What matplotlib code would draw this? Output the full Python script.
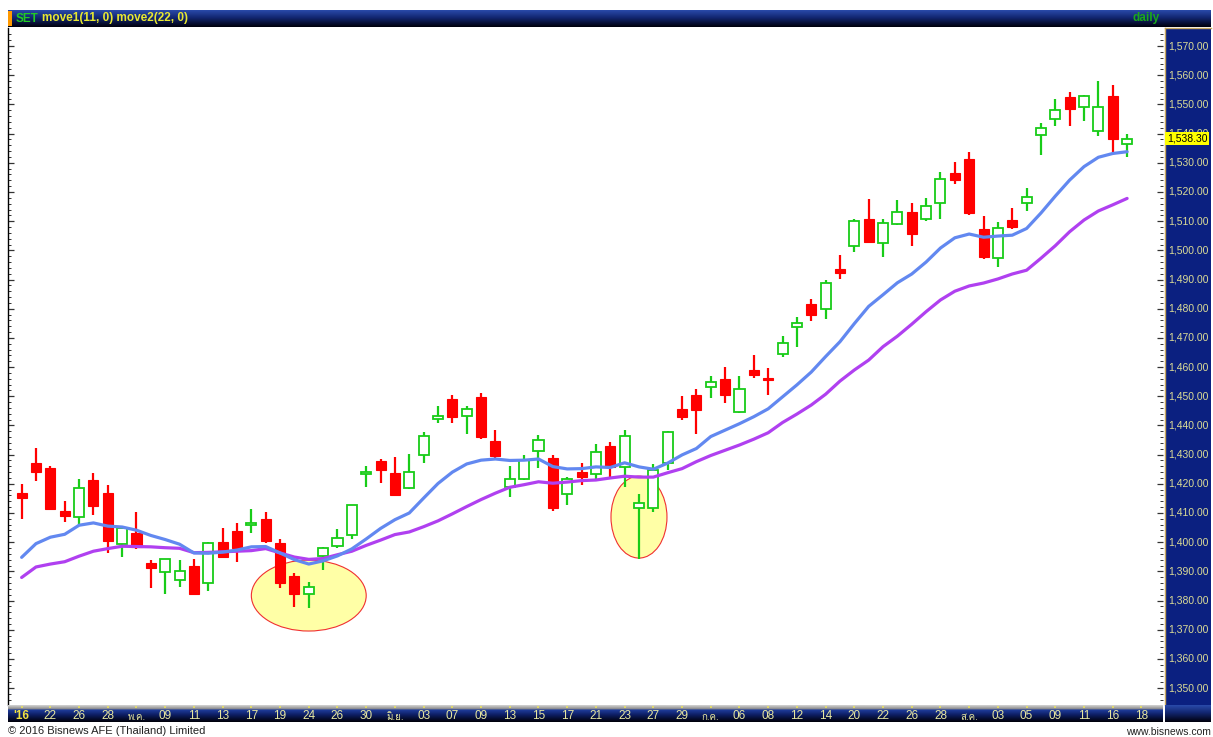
import numpy as np
import matplotlib
matplotlib.use('Agg')
import matplotlib.pyplot as plt
from matplotlib.colors import LinearSegmentedColormap
from matplotlib.patches import Ellipse, Rectangle

# SET index, daily candles (Apr - Aug 2016)
opens = [1417.0, 1427.0, 1425.3, 1410.6, 1408.5, 1421.3, 1416.9, 1399.3, 1403.0, 1392.9,
         1389.9, 1387.0, 1391.8, 1385.9, 1400.1, 1403.8, 1405.8, 1407.8, 1399.6, 1388.4,
         1382.2, 1395.2, 1398.6, 1402.4, 1423.3, 1427.8, 1423.8, 1418.4, 1429.8, 1442.2,
         1448.9, 1443.3, 1449.8, 1434.7, 1418.8, 1421.8, 1431.3, 1428.7, 1416.5, 1424.1,
         1423.3, 1432.9, 1425.8, 1411.6, 1411.6, 1427.2, 1445.5, 1450.6, 1453.3, 1455.8,
         1444.6, 1458.9, 1456.3, 1464.4, 1473.8, 1481.5, 1479.8, 1493.6, 1501.5, 1510.9,
         1502.4, 1509.2, 1513.0, 1510.8, 1516.1, 1526.4, 1531.3, 1507.2, 1497.4, 1510.4,
         1516.1, 1539.5, 1544.9, 1552.5, 1549.0, 1541.0, 1552.8, 1536.3]
highs = [1419.8, 1432.3, 1426.1, 1414.2, 1421.8, 1423.6, 1419.5, 1405.0, 1410.2, 1393.8,
         1394.4, 1393.8, 1394.1, 1399.9, 1404.9, 1406.4, 1411.2, 1410.2, 1401.0, 1389.3,
         1386.2, 1398.4, 1404.5, 1412.7, 1426.1, 1428.5, 1429.3, 1430.2, 1437.8, 1446.6,
         1450.6, 1446.6, 1451.2, 1438.6, 1426.1, 1429.8, 1436.7, 1429.8, 1422.4, 1427.0,
         1433.8, 1434.4, 1438.6, 1416.4, 1426.8, 1438.0, 1450.1, 1452.4, 1456.8, 1460.0,
         1457.1, 1464.1, 1459.6, 1470.7, 1477.2, 1483.2, 1489.8, 1498.4, 1510.6, 1517.7,
         1510.6, 1517.2, 1516.1, 1518.0, 1526.7, 1530.2, 1533.8, 1511.7, 1509.8, 1514.4,
         1521.3, 1543.5, 1552.0, 1554.2, 1553.1, 1558.0, 1556.5, 1539.8]
lows = [1408.1, 1421.0, 1411.0, 1406.9, 1405.5, 1409.3, 1396.4, 1394.8, 1397.5, 1384.4,
        1382.1, 1384.7, 1382.2, 1383.3, 1394.8, 1393.3, 1403.0, 1399.8, 1384.4, 1377.9,
        1377.3, 1390.4, 1397.9, 1401.0, 1419.0, 1420.3, 1415.8, 1418.2, 1427.2, 1440.7,
        1440.7, 1436.9, 1435.3, 1429.0, 1415.5, 1421.3, 1425.5, 1410.7, 1412.7, 1419.5,
        1421.8, 1422.4, 1419.0, 1394.4, 1410.4, 1424.7, 1441.8, 1437.0, 1449.3, 1447.8,
        1444.3, 1456.3, 1450.4, 1463.6, 1466.8, 1475.8, 1476.4, 1490.1, 1499.5, 1502.7,
        1497.8, 1508.8, 1501.6, 1510.0, 1510.9, 1522.6, 1512.1, 1497.2, 1494.2, 1507.2,
        1513.6, 1532.6, 1542.6, 1542.6, 1544.4, 1539.3, 1533.8, 1531.9]
closes = [1415.3, 1424.1, 1411.2, 1409.0, 1418.6, 1412.4, 1400.5, 1404.7, 1398.4, 1391.2,
          1394.1, 1390.2, 1382.4, 1399.6, 1395.0, 1398.1, 1406.6, 1400.5, 1386.1, 1382.1,
          1384.5, 1397.9, 1401.6, 1412.7, 1424.1, 1424.7, 1416.1, 1424.1, 1436.4, 1443.3,
          1443.0, 1445.5, 1435.9, 1429.6, 1421.8, 1428.1, 1435.0, 1411.6, 1421.5, 1422.2,
          1430.8, 1425.8, 1436.4, 1413.3, 1424.7, 1437.8, 1443.0, 1445.2, 1454.8, 1450.4,
          1452.6, 1457.3, 1455.5, 1468.1, 1475.1, 1477.8, 1488.9, 1492.3, 1510.0, 1503.0,
          1509.5, 1513.0, 1505.6, 1515.2, 1524.4, 1524.1, 1512.7, 1497.6, 1507.5, 1507.9,
          1518.4, 1542.0, 1548.1, 1548.5, 1552.8, 1549.1, 1538.0, 1538.3]

# moving averages as drawn (move1 = 11 days, move2 = 22 days)
move1 = [1394.8, 1399.5, 1401.7, 1402.7, 1405.8, 1406.6, 1405.5, 1405.2, 1404.1, 1402.3,
         1400.9, 1399.3, 1396.3, 1396.2, 1396.6, 1397.3, 1398.4, 1398.5, 1396.3, 1394.0,
         1392.5, 1393.6, 1395.3, 1397.7, 1401.1, 1404.7, 1407.7, 1410.0, 1415.1, 1420.1,
         1424.0, 1426.8, 1428.1, 1428.5, 1428.0, 1428.1, 1428.5, 1425.9, 1425.1, 1425.2,
         1425.8, 1425.6, 1427.2, 1425.8, 1425.0, 1427.1, 1429.9, 1432.1, 1436.2, 1438.4,
         1440.6, 1443.0, 1445.7, 1449.8, 1453.9, 1458.3, 1463.6, 1468.7, 1474.9, 1480.8,
         1484.8, 1488.9, 1491.9, 1496.0, 1500.8, 1504.3, 1505.6, 1504.5, 1504.9, 1505.2,
         1507.5, 1512.8, 1518.6, 1524.1, 1528.7, 1531.9, 1533.2, 1533.8]
move2 = [1387.9, 1391.5, 1392.5, 1393.3, 1395.2, 1396.9, 1397.8, 1398.6, 1398.5, 1398.4,
         1398.1, 1397.9, 1396.4, 1396.5, 1396.7, 1396.9, 1397.1, 1397.8, 1396.3, 1394.9,
         1394.1, 1394.4, 1395.7, 1396.9, 1398.9, 1400.7, 1402.6, 1403.5, 1405.3, 1407.3,
         1409.7, 1412.2, 1414.6, 1416.8, 1418.8, 1419.7, 1420.7, 1420.2, 1420.6, 1421.1,
         1421.3, 1422.0, 1422.6, 1422.3, 1422.3, 1423.8, 1425.2, 1427.6, 1429.7, 1431.5,
         1433.3, 1435.3, 1437.5, 1441.0, 1443.9, 1447.0, 1450.7, 1455.2, 1459.0, 1462.4,
         1467.0, 1470.6, 1474.7, 1479.0, 1483.0, 1486.0, 1487.8, 1488.8, 1490.2, 1491.9,
         1493.2, 1497.3, 1501.6, 1506.4, 1510.4, 1513.5, 1515.6, 1517.8]

# date labels, one every 2 bars
date_labels = ["'16", "22", "26", "28", "พ.ค.", "09", "11", "13", "17", "19",
               "24", "26", "30", "มิ.ย.", "03", "07", "09", "13", "15", "17",
               "21", "23", "27", "29", "ก.ค.", "06", "08", "12", "14", "20",
               "22", "26", "28", "ส.ค.", "03", "05", "09", "11", "16", "18"]
label_step = 2

# highlighted zones (bar index, price, width in bars, height in points)
zone_bar = [20.0, 43.0]
zone_price = [1381.7, 1408.6]
zone_width = [8.0, 3.9]
zone_height = [24.3, 28.1]

price_ticks = np.arange(1350, 1571, 10)

# Loma carries the Thai month names
fams = ['Liberation Sans', 'Loma', 'DejaVu Sans']

W, H = 1213, 737
fig = plt.figure(figsize=(W / 100, H / 100), dpi=100)
fig.patch.set_facecolor('white')


def px_axes(x0, y0, x1, y1):
    return fig.add_axes([x0 / W, 1 - y1 / H, (x1 - x0) / W, (y1 - y0) / H])


def gradient(ax, colors, stops, xr=(0, 1)):
    cmap = LinearSegmentedColormap.from_list('g', list(zip(stops, colors)))
    ax.imshow(np.linspace(0, 1, 64).reshape(-1, 1), cmap=cmap, aspect='auto',
              extent=[xr[0], xr[1], 0, 1], origin='upper', interpolation='bilinear')
    ax.set_xlim(*xr)
    ax.set_ylim(0, 1)
    ax.axis('off')


n = len(closes)
x = np.arange(n)
xlim = (-0.95, n + 1.5)
ylim = (1344.2, 1576.2)

# main price area
ax = px_axes(8, 28, 1163, 705)
ax.set_xlim(*xlim)
ax.set_ylim(*ylim)

for i in range(len(zone_bar)):
    ax.add_patch(Ellipse((zone_bar[i], zone_price[i]), zone_width[i], zone_height[i],
                         facecolor='#ffffa6', edgecolor='#f03030', lw=0.8, zorder=1))

up = np.array(closes) >= np.array(opens)
red, green = '#ff0000', '#18cc18'
for i in range(n):
    col = green if up[i] else red
    ax.vlines(x[i], lows[i], highs[i], color=col, lw=1.6, zorder=2)
    lo, hi = min(opens[i], closes[i]), max(opens[i], closes[i])
    if up[i]:
        ax.add_patch(Rectangle((x[i] - 0.35, lo), 0.7, max(hi - lo, 0.3),
                               facecolor='white', edgecolor=col, lw=1.3, zorder=3))
    else:
        ax.add_patch(Rectangle((x[i] - 0.35, lo), 0.7, max(hi - lo, 0.3),
                               facecolor=col, edgecolor=col, lw=0.8, zorder=3))

ax.plot(x, move2, color='#b040f0', lw=2.3, zorder=4, solid_capstyle='round')
ax.plot(x, move1, color='#6288f0', lw=2.3, zorder=4, solid_capstyle='round')

ax.set_yticks(price_ticks)
ax.set_yticks(np.arange(1346, 1576, 2), minor=True)
ax.set_xticks([])
ax.tick_params(axis='y', which='both', direction='in', left=True, right=True,
               labelleft=False, labelright=False, color='#333333')
ax.tick_params(axis='y', which='major', length=4, width=0.9)
ax.tick_params(axis='y', which='minor', length=2, width=0.7)
for s in ['top', 'right', 'bottom']:
    ax.spines[s].set_visible(False)
ax.spines['left'].set_color('black')
ax.spines['left'].set_linewidth(1.0)

# right price scale
yax = px_axes(1165, 28, 1211, 705)
yax.set_facecolor('#0b2080')
yax.set_xlim(0, 1)
yax.set_ylim(*ylim)
yax.set_xticks([])
yax.set_yticks([])
for s in ['right', 'bottom']:
    yax.spines[s].set_visible(False)
for s in ['left', 'top']:
    yax.spines[s].set_color('#c8a860')
    yax.spines[s].set_linewidth(1.0)
for v in price_ticks:
    yax.text(0.07, v, f"{v:,.2f}", color='#dcdc96', fontsize=7.5, va='center',
             ha='left', family=fams)
yax.text(0.04, closes[-1], f"{closes[-1]:,.2f}", color='black', fontsize=7.5,
         va='center', ha='left', family=fams, zorder=5,
         bbox=dict(boxstyle='square,pad=0.15', facecolor='#ffff00', edgecolor='none'))

# header bar
hax = px_axes(8, 10, 1211, 27)
gradient(hax, ['#2a4aaa', '#122670', '#00000c'], [0, 0.45, 1])
hax.add_patch(Rectangle((0, 0.05), 4 / 1203, 0.9, facecolor='#ff9900', edgecolor='none'))
t_set = hax.text(8 / 1203, 0.5, 'SET', color='#22cc22', fontsize=8.5, fontweight='bold',
                 va='center', ha='left', family=fams)
hax.annotate('move1(11, 0) move2(22, 0)', xy=(1, 0.5), xycoords=t_set,
             xytext=(2.5, 0), textcoords='offset points', color='#e8e830',
             fontsize=8.5, fontweight='bold', va='center', ha='left', family=fams)
hax.text(1152 / 1203, 0.5, 'daily', color='#1aa81a', fontsize=8.5, fontweight='bold',
         va='center', ha='right', family=fams)

# date axis bar
bax = px_axes(8, 705, 1163, 722)
gradient(bax, ['#d4d4d4', '#8c8c8c', '#1e3c9c', '#0c1c5e', '#000008'],
         [0, 0.22, 0.28, 0.6, 1], xr=xlim)
tick_pos = np.arange(len(date_labels)) * label_step
bax.vlines(tick_pos, 0.8, 0.95, color='#e8e060', lw=1.2)
for p, lab in zip(tick_pos, date_labels):
    thai_lab = any(ord(c) > 0x0E00 for c in lab)
    first = lab.startswith("'")
    bax.text(p, 0.3 if thai_lab else 0.36, lab,
             color='#f0e040' if first else '#e8e8a0',
             fontsize=7 if thai_lab else 8.5,
             fontweight='bold' if first else 'normal',
             va='center', ha='center', family=fams)

cax = px_axes(1165, 705, 1211, 722)
gradient(cax, ['#2a4aaa', '#122670', '#00000c'], [0, 0.45, 1])

fig.text(8 / W, 1 - 731 / H, '© 2016 Bisnews AFE (Thailand) Limited', fontsize=8,
         color='#222222', va='center', ha='left', family=fams)
fig.text(1211 / W, 1 - 732 / H, 'www.bisnews.com', fontsize=7.5, color='#222222',
         va='center', ha='right', family=fams)

fig.savefig('out.png', dpi=100)
